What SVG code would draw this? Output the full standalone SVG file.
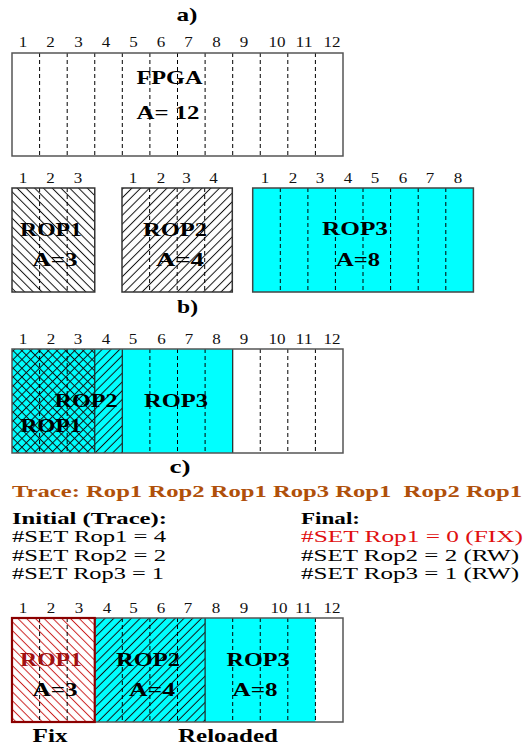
<svg xmlns="http://www.w3.org/2000/svg" width="524" height="746" viewBox="0 0 524 746">
<style>
.num{font-family:"Liberation Serif","Times New Roman",serif;font-size:15px;fill:#111;text-anchor:middle}
.lbl{font-family:"Liberation Serif","Times New Roman",serif;font-size:19px;font-weight:bold;fill:#000;text-anchor:middle}
.hd{font-family:"Liberation Serif","Times New Roman",serif;font-size:17px;font-weight:bold;fill:#000}
.tx{font-family:"Liberation Serif","Times New Roman",serif;font-size:17px;fill:#000}
.dash{stroke:#000;stroke-width:1;stroke-dasharray:4 3}
.solid{stroke:#222;stroke-width:1.2}
.box{fill:none;stroke:#555;stroke-width:1.5}
.cyan{fill:#00FFFF}
</style>
<defs>
<pattern id="hb" patternUnits="userSpaceOnUse" width="6.2" height="10" patternTransform="rotate(-45)"><line x1="3.1" y1="-1" x2="3.1" y2="11" stroke="#111" stroke-width="1"/></pattern>
<pattern id="hf" patternUnits="userSpaceOnUse" width="6.2" height="10" patternTransform="rotate(45)"><line x1="3.1" y1="-1" x2="3.1" y2="11" stroke="#111" stroke-width="1"/></pattern>
<pattern id="hr" patternUnits="userSpaceOnUse" width="6.2" height="10" patternTransform="rotate(-45)"><line x1="3.1" y1="-1" x2="3.1" y2="11" stroke="#CC2222" stroke-width="1"/></pattern>
</defs>
<rect width="524" height="746" fill="#fff"/>

<g id="section-a">
<text class="lbl" x="187" y="21" textLength="21" lengthAdjust="spacingAndGlyphs">a)</text>
<g class="num">
<text x="23" y="47" textLength="8.5" lengthAdjust="spacingAndGlyphs">1</text>
<text x="50.5" y="47" textLength="8.5" lengthAdjust="spacingAndGlyphs">2</text>
<text x="78.5" y="47" textLength="8.5" lengthAdjust="spacingAndGlyphs">3</text>
<text x="106" y="47" textLength="8.5" lengthAdjust="spacingAndGlyphs">4</text>
<text x="133.5" y="47" textLength="8.5" lengthAdjust="spacingAndGlyphs">5</text>
<text x="161" y="47" textLength="8.5" lengthAdjust="spacingAndGlyphs">6</text>
<text x="188.5" y="47" textLength="8.5" lengthAdjust="spacingAndGlyphs">7</text>
<text x="216.5" y="47" textLength="8.5" lengthAdjust="spacingAndGlyphs">8</text>
<text x="244" y="47" textLength="8.5" lengthAdjust="spacingAndGlyphs">9</text>
<text x="277" y="47" textLength="17" lengthAdjust="spacingAndGlyphs">10</text>
<text x="304" y="47" textLength="17" lengthAdjust="spacingAndGlyphs">11</text>
<text x="332" y="47" textLength="17" lengthAdjust="spacingAndGlyphs">12</text>
</g>
<g id="fpga">
<rect x="12" y="53" width="331" height="103" fill="#fff"/>
<g class="dash">
<line x1="39.6" y1="53" x2="39.6" y2="156"/><line x1="67.2" y1="53" x2="67.2" y2="156"/><line x1="94.75" y1="53" x2="94.75" y2="156"/><line x1="122.3" y1="53" x2="122.3" y2="156"/><line x1="149.9" y1="53" x2="149.9" y2="156"/><line x1="177.5" y1="53" x2="177.5" y2="156"/><line x1="205.1" y1="53" x2="205.1" y2="156"/><line x1="232.7" y1="53" x2="232.7" y2="156"/><line x1="260.25" y1="53" x2="260.25" y2="156"/><line x1="287.8" y1="53" x2="287.8" y2="156"/><line x1="315.4" y1="53" x2="315.4" y2="156"/>
</g>
<rect class="box" x="12" y="53" width="331" height="103"/>
<text class="lbl" x="169.5" y="84" textLength="66" lengthAdjust="spacingAndGlyphs">FPGA</text>
<text class="lbl" x="168" y="119" textLength="63" lengthAdjust="spacingAndGlyphs">A= 12</text>
</g>
</g>

<g id="rop1">
<g class="num">
<text x="23" y="183" textLength="8.5" lengthAdjust="spacingAndGlyphs">1</text>
<text x="50.5" y="183" textLength="8.5" lengthAdjust="spacingAndGlyphs">2</text>
<text x="78" y="183" textLength="8.5" lengthAdjust="spacingAndGlyphs">3</text>
</g>
<rect x="12" y="188" width="82.75" height="104" fill="#fff"/>
<rect x="12" y="188" width="82.75" height="104" fill="url(#hb)"/>
<g class="dash"><line x1="39.6" y1="188" x2="39.6" y2="292"/><line x1="67.2" y1="188" x2="67.2" y2="292"/></g>
<rect x="12" y="188" width="82.75" height="104" fill="none" stroke="#333" stroke-width="1.5"/>
<text class="lbl" x="51" y="236" textLength="62" lengthAdjust="spacingAndGlyphs">ROP1</text>
<text class="lbl" x="55" y="266" textLength="45" lengthAdjust="spacingAndGlyphs">A=3</text>
</g>

<g id="rop2">
<g class="num">
<text x="133" y="183" textLength="8.5" lengthAdjust="spacingAndGlyphs">1</text>
<text x="161" y="183" textLength="8.5" lengthAdjust="spacingAndGlyphs">2</text>
<text x="186.5" y="183" textLength="8.5" lengthAdjust="spacingAndGlyphs">3</text>
<text x="213.5" y="183" textLength="8.5" lengthAdjust="spacingAndGlyphs">4</text>
</g>
<rect x="122" y="188" width="110.3" height="104" fill="#fff"/>
<rect x="122" y="188" width="110.3" height="104" fill="url(#hf)"/>
<g class="dash"><line x1="149.6" y1="188" x2="149.6" y2="292"/><line x1="177.2" y1="188" x2="177.2" y2="292"/><line x1="204.7" y1="188" x2="204.7" y2="292"/></g>
<rect x="122" y="188" width="110.3" height="104" fill="none" stroke="#333" stroke-width="1.5"/>
<text class="lbl" x="175" y="236" textLength="64" lengthAdjust="spacingAndGlyphs">ROP2</text>
<text class="lbl" x="180" y="266" textLength="48" lengthAdjust="spacingAndGlyphs">A=4</text>
</g>

<g id="rop3">
<g class="num">
<text x="265" y="183" textLength="8.5" lengthAdjust="spacingAndGlyphs">1</text>
<text x="293" y="183" textLength="8.5" lengthAdjust="spacingAndGlyphs">2</text>
<text x="320" y="183" textLength="8.5" lengthAdjust="spacingAndGlyphs">3</text>
<text x="348" y="183" textLength="8.5" lengthAdjust="spacingAndGlyphs">4</text>
<text x="375" y="183" textLength="8.5" lengthAdjust="spacingAndGlyphs">5</text>
<text x="403" y="183" textLength="8.5" lengthAdjust="spacingAndGlyphs">6</text>
<text x="430" y="183" textLength="8.5" lengthAdjust="spacingAndGlyphs">7</text>
<text x="458" y="183" textLength="8.5" lengthAdjust="spacingAndGlyphs">8</text>
</g>
<rect class="cyan" x="252.7" y="188" width="220.7" height="104"/>
<g class="dash">
<line x1="280.3" y1="188" x2="280.3" y2="292"/><line x1="307.9" y1="188" x2="307.9" y2="292"/><line x1="335.4" y1="188" x2="335.4" y2="292"/><line x1="363" y1="188" x2="363" y2="292"/><line x1="390.6" y1="188" x2="390.6" y2="292"/><line x1="418.2" y1="188" x2="418.2" y2="292"/><line x1="445.8" y1="188" x2="445.8" y2="292"/>
</g>
<rect x="252.7" y="188" width="220.7" height="104" fill="none" stroke="#444" stroke-width="1.5"/>
<text class="lbl" x="355" y="235" textLength="66" lengthAdjust="spacingAndGlyphs">ROP3</text>
<text class="lbl" x="358" y="266" textLength="44" lengthAdjust="spacingAndGlyphs">A=8</text>
</g>

<g id="section-b">
<text class="lbl" x="187.5" y="313" textLength="21" lengthAdjust="spacingAndGlyphs">b)</text>
<g class="num">
<text x="23" y="344" textLength="8.5" lengthAdjust="spacingAndGlyphs">1</text>
<text x="51" y="344" textLength="8.5" lengthAdjust="spacingAndGlyphs">2</text>
<text x="78" y="344" textLength="8.5" lengthAdjust="spacingAndGlyphs">3</text>
<text x="106" y="344" textLength="8.5" lengthAdjust="spacingAndGlyphs">4</text>
<text x="133" y="344" textLength="8.5" lengthAdjust="spacingAndGlyphs">5</text>
<text x="161.5" y="344" textLength="8.5" lengthAdjust="spacingAndGlyphs">6</text>
<text x="189" y="344" textLength="8.5" lengthAdjust="spacingAndGlyphs">7</text>
<text x="216.5" y="344" textLength="8.5" lengthAdjust="spacingAndGlyphs">8</text>
<text x="244" y="344" textLength="8.5" lengthAdjust="spacingAndGlyphs">9</text>
<text x="277" y="344" textLength="17" lengthAdjust="spacingAndGlyphs">10</text>
<text x="304" y="344" textLength="17" lengthAdjust="spacingAndGlyphs">11</text>
<text x="332" y="344" textLength="17" lengthAdjust="spacingAndGlyphs">12</text>
</g>
<rect x="12" y="349" width="331" height="104" fill="#fff"/>
<rect class="cyan" x="12" y="349" width="220.7" height="104"/>
<rect x="12" y="349" width="110.3" height="104" fill="url(#hf)"/>
<rect x="12" y="349" width="82.75" height="104" fill="url(#hb)"/>
<g class="dash">
<line x1="39.6" y1="349" x2="39.6" y2="453"/><line x1="67.2" y1="349" x2="67.2" y2="453"/><line x1="149.9" y1="349" x2="149.9" y2="453"/><line x1="177.5" y1="349" x2="177.5" y2="453"/><line x1="205.1" y1="349" x2="205.1" y2="453"/><line x1="260.25" y1="349" x2="260.25" y2="453"/><line x1="287.8" y1="349" x2="287.8" y2="453"/><line x1="315.4" y1="349" x2="315.4" y2="453"/>
</g>
<g class="solid">
<line x1="94.75" y1="349" x2="94.75" y2="453"/><line x1="122.3" y1="349" x2="122.3" y2="453"/><line x1="232.7" y1="349" x2="232.7" y2="453"/>
</g>
<rect class="box" x="12" y="349" width="331" height="104"/>
<text class="lbl" x="86" y="407" textLength="63" lengthAdjust="spacingAndGlyphs">ROP2</text>
<text class="lbl" x="176" y="407" textLength="64" lengthAdjust="spacingAndGlyphs">ROP3</text>
<text class="lbl" x="51" y="432" textLength="61" lengthAdjust="spacingAndGlyphs">ROP1</text>
</g>

<g id="section-c-text">
<text class="lbl" x="180" y="473" textLength="21" lengthAdjust="spacingAndGlyphs">c)</text>
<text class="hd" x="12" y="497" style="fill:#B0500A" textLength="510" lengthAdjust="spacingAndGlyphs" xml:space="preserve">Trace: Rop1 Rop2 Rop1 Rop3 Rop1  Rop2 Rop1</text>
<text class="hd" x="12" y="524" textLength="155" lengthAdjust="spacingAndGlyphs">Initial (Trace):</text>
<text class="tx" x="12" y="542" textLength="154" lengthAdjust="spacingAndGlyphs">#SET Rop1 = 4</text>
<text class="tx" x="12" y="561" textLength="154" lengthAdjust="spacingAndGlyphs">#SET Rop2 = 2</text>
<text class="tx" x="12" y="579" textLength="152" lengthAdjust="spacingAndGlyphs">#SET Rop3 = 1</text>
<text class="hd" x="301" y="524" textLength="59" lengthAdjust="spacingAndGlyphs">Final:</text>
<text class="tx" x="301" y="542" style="fill:#E01010" textLength="222" lengthAdjust="spacingAndGlyphs">#SET Rop1 = 0 (FIX)</text>
<text class="tx" x="301" y="561" textLength="218" lengthAdjust="spacingAndGlyphs">#SET Rop2 = 2 (RW)</text>
<text class="tx" x="301" y="579" textLength="218" lengthAdjust="spacingAndGlyphs">#SET Rop3 = 1 (RW)</text>
</g>

<g id="section-c">
<g class="num">
<text x="23" y="613" textLength="8.5" lengthAdjust="spacingAndGlyphs">1</text>
<text x="51" y="613" textLength="8.5" lengthAdjust="spacingAndGlyphs">2</text>
<text x="79" y="613" textLength="8.5" lengthAdjust="spacingAndGlyphs">3</text>
<text x="107" y="613" textLength="8.5" lengthAdjust="spacingAndGlyphs">4</text>
<text x="133.5" y="613" textLength="8.5" lengthAdjust="spacingAndGlyphs">5</text>
<text x="161" y="613" textLength="8.5" lengthAdjust="spacingAndGlyphs">6</text>
<text x="188" y="613" textLength="8.5" lengthAdjust="spacingAndGlyphs">7</text>
<text x="216" y="613" textLength="8.5" lengthAdjust="spacingAndGlyphs">8</text>
<text x="244" y="613" textLength="8.5" lengthAdjust="spacingAndGlyphs">9</text>
<text x="279" y="613" textLength="17" lengthAdjust="spacingAndGlyphs">10</text>
<text x="303.5" y="613" textLength="17" lengthAdjust="spacingAndGlyphs">11</text>
<text x="332" y="613" textLength="17" lengthAdjust="spacingAndGlyphs">12</text>
</g>
<rect x="12" y="618" width="331" height="104" fill="#fff"/>
<rect class="cyan" x="94.75" y="618" width="220.65" height="104"/>
<rect x="94.75" y="618" width="110.35" height="104" fill="url(#hf)"/>
<rect x="12" y="618" width="82.75" height="104" fill="url(#hr)"/>
<g class="dash">
<line x1="39.6" y1="618" x2="39.6" y2="722"/><line x1="67.2" y1="618" x2="67.2" y2="722"/><line x1="122.3" y1="618" x2="122.3" y2="722"/><line x1="149.9" y1="618" x2="149.9" y2="722"/><line x1="177.5" y1="618" x2="177.5" y2="722"/><line x1="232.7" y1="618" x2="232.7" y2="722"/><line x1="260.25" y1="618" x2="260.25" y2="722"/><line x1="287.8" y1="618" x2="287.8" y2="722"/><line x1="315.4" y1="618" x2="315.4" y2="722"/>
</g>
<line class="solid" x1="205.1" y1="618" x2="205.1" y2="722"/>
<rect class="box" x="12" y="618" width="331" height="104"/>
<rect x="12" y="618" width="82.75" height="104" fill="none" stroke="#8B0000" stroke-width="2.2"/>
<text class="lbl" x="51" y="666" style="fill:#A01010" textLength="62" lengthAdjust="spacingAndGlyphs">ROP1</text>
<text class="lbl" x="55" y="696" textLength="45" lengthAdjust="spacingAndGlyphs">A=3</text>
<text class="lbl" x="148" y="666" textLength="64" lengthAdjust="spacingAndGlyphs">ROP2</text>
<text class="lbl" x="152" y="696" textLength="46" lengthAdjust="spacingAndGlyphs">A=4</text>
<text class="lbl" x="258" y="666" textLength="63" lengthAdjust="spacingAndGlyphs">ROP3</text>
<text class="lbl" x="255" y="696" textLength="45" lengthAdjust="spacingAndGlyphs">A=8</text>
<text class="lbl" x="50" y="742" textLength="35" lengthAdjust="spacingAndGlyphs">Fix</text>
<text class="lbl" x="228" y="742" textLength="100" lengthAdjust="spacingAndGlyphs">Reloaded</text>
</g>
</svg>
